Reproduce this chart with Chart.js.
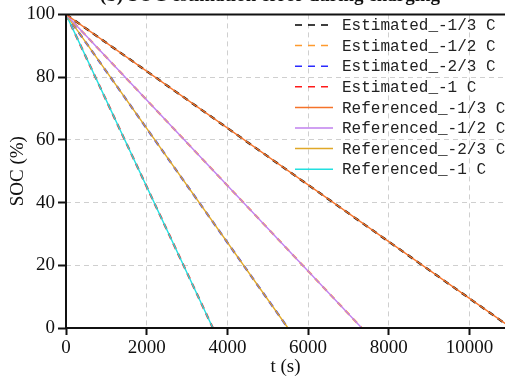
<!DOCTYPE html>
<html><head><meta charset="utf-8">
<script src="https://cdn.jsdelivr.net/npm/chart.js@4/dist/chart.umd.min.js"></script>
<style>html,body{margin:0;padding:0;background:#fff;overflow:hidden}canvas{display:block}</style>
</head><body>
<canvas id="c" width="505" height="379"></canvas>
<script>
// ---- data ----
const titleText = "(b) SOC estimation error during charging";
const xTicks = [0, 2000, 4000, 6000, 8000, 10000];
const yTicks = [0, 20, 40, 60, 80, 100];
const xMax = 10880;

const labels = ["Estimated_-1/3 C","Estimated_-1/2 C","Estimated_-2/3 C","Estimated_-1 C",
                "Referenced_-1/3 C","Referenced_-1/2 C","Referenced_-2/3 C","Referenced_-1 C"];

const est13T = [0, 11040];  const est13S = [100, 0];
const est12T = [0, 7330];   const est12S = [100, 0];
const est23T = [0, 5500];   const est23S = [100, 0];
const est1T  = [0, 3640];   const est1S  = [100, 0];
const ref13T = [0, 11040];  const ref13S = [100, 0];
const ref12T = [0, 7330];   const ref12S = [100, 0];
const ref23T = [0, 5500];   const ref23S = [100, 0];
const ref1T  = [0, 3640];   const ref1S  = [100, 0];

const seriesT = [est13T, est12T, est23T, est1T, ref13T, ref12T, ref23T, ref1T];
const seriesS = [est13S, est12S, est23S, est1S, ref13S, ref12S, ref23S, ref1S];
const colors = ["#000000","#ff9a2e","#2a2aff","#ff1a1a","#f5732a","#c080ee","#e0a828","#22e0e0"];
const dashed = [true, true, true, true, false, false, false, false];

const serif = "'Liberation Serif','Times New Roman',serif";
const mono = "'Liberation Mono','DejaVu Sans Mono',monospace";

const datasets = labels.map((lab, i) => ({
  label: lab,
  data: seriesT[i].map((t, k) => ({x: t, y: seriesS[i][k]})),
  borderColor: colors[i],
  backgroundColor: colors[i],
  borderWidth: dashed[i] ? 2.2 : 1.4,
  borderDash: dashed[i] ? [6, 5] : [],
  order: dashed[i] ? 1 : 0,
  pointRadius: 0,
  fill: false,
  tension: 0
}));

const framePlugin = {
  id: 'frame',
  afterDatasetsDraw(chart) {
    const {ctx, chartArea: a} = chart;
    ctx.save();
    ctx.strokeStyle = '#111';
    ctx.lineWidth = 2;
    ctx.setLineDash([]);
    ctx.beginPath();
    ctx.moveTo(a.left, a.top); ctx.lineTo(a.right, a.top);
    ctx.moveTo(a.left, a.top); ctx.lineTo(a.left, a.bottom);
    ctx.moveTo(a.left - 1, a.bottom); ctx.lineTo(a.right, a.bottom);
    ctx.stroke();
    // legend
    const x0 = 295, x1 = 333, tx = 342, y0 = 25, dy = 20.6;
    ctx.font = "16px " + mono;
    ctx.textBaseline = 'middle';
    ctx.textAlign = 'left';
    chart.data.datasets.forEach((ds, i) => {
      const y = y0 + i * dy;
      ctx.strokeStyle = ds.borderColor;
      ctx.lineWidth = 1.5;
      ctx.setLineDash(ds.borderDash.length ? [7, 6] : []);
      ctx.beginPath(); ctx.moveTo(x0, y); ctx.lineTo(x1, y); ctx.stroke();
      ctx.setLineDash([]);
      ctx.fillStyle = '#222';
      ctx.fillText(ds.label, tx, y + 1);
    });
    // title (cut off at top)
    ctx.font = "bold 19px " + serif;
    ctx.textAlign = 'center';
    ctx.textBaseline = 'alphabetic';
    ctx.fillStyle = '#111';
    ctx.fillText(titleText, 270, 1);
    ctx.restore();
  }
};

new Chart(document.getElementById('c'), {
  type: 'line',
  data: {datasets},
  options: {
    responsive: false,
    animation: false,
    devicePixelRatio: 1,
    layout: {padding: {top: 14, right: 0, left: 0, bottom: 0}},
    plugins: {legend: {display: false}, tooltip: {enabled: false}, title: {display: false}},
    scales: {
      x: {
        type: 'linear', min: 0, max: xMax,
        afterBuildTicks: s => { s.ticks = xTicks.map(v => ({value: v})); },
        afterFit: s => { s.height = 51; },
        ticks: {callback: v => String(v), font: {family: serif, size: 19}, color: '#111', padding: 2, maxRotation: 0, autoSkip: false},
        grid: {color: '#cfcfcf', lineWidth: 1, tickColor: '#111', tickLength: 7, tickWidth: 2, tickBorderDash: []},
        border: {display: false, dash: [5, 4]},
        title: {display: true, text: 't (s)', font: {family: serif, size: 19}, color: '#111', padding: {top: 0, bottom: 1}}
      },
      y: {
        type: 'linear', min: 0, max: 100,
        afterBuildTicks: s => { s.ticks = yTicks.map(v => ({value: v})); },
        afterFit: s => { s.width = 66; },
        ticks: {callback: v => String(v), font: {family: serif, size: 19}, color: '#111', padding: 3, autoSkip: false},
        grid: {color: '#cfcfcf', lineWidth: 1, tickColor: '#111', tickLength: 8, tickWidth: 2, tickBorderDash: []},
        border: {display: false, dash: [5, 4]},
        title: {display: true, text: 'SOC (%)', font: {family: serif, size: 19}, color: '#111', padding: {top: 7, bottom: 0}}
      }
    }
  },
  plugins: [framePlugin]
});
</script>
</body></html>
